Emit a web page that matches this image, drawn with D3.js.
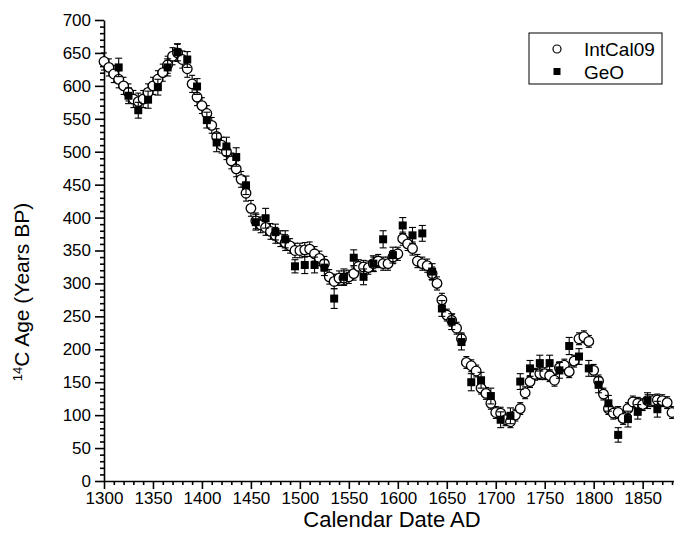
<!DOCTYPE html>
<html>
<head>
<meta charset="utf-8">
<script src="https://cdn.jsdelivr.net/npm/d3@7"></script>
<style>
  body { margin: 0; background: #fff; }
  svg { display: block; }
  text { font-family: "Liberation Sans", Arial, Helvetica, sans-serif; fill: #000; }
</style>
</head>
<body>
<svg id="chart" width="674" height="547"></svg>
<script>
// IntCal09 calibration curve, 5-year steps
const intcalYears = [1300,1305,1310,1315,1320,1325,1330,1335,1340,1345,1350,1355,1360,1365,1370,1375,1380,1385,1390,1395,
  1400,1405,1410,1415,1420,1425,1430,1435,1440,1445,1450,1455,1460,1465,1470,1475,1480,1485,1490,1495,
  1500,1505,1510,1515,1520,1525,1530,1535,1540,1545,1550,1555,1560,1565,1570,1575,1580,1585,1590,1595,
  1600,1605,1610,1615,1620,1625,1630,1635,1640,1645,1650,1655,1660,1665,1670,1675,1680,1685,1690,1695,
  1700,1705,1710,1715,1720,1725,1730,1735,1740,1745,1750,1755,1760,1765,1770,1775,1780,1785,1790,1795,
  1800,1805,1810,1815,1820,1825,1830,1835,1840,1845,1850,1855,1860,1865,1870,1875,1880];
const intcalAge = [637,628,618,610,600,590,580,576,580,590,600,610,620,632,645,650,640,626,603,583,
  570,558,540,523,510,500,486,474,458,437,414,395,389,385,379,373,368,362,357,350,
  350,351,352,345,338,330,310,303,308,308,310,315,326,325,324,330,334,330,330,340,
  345,368,360,353,334,330,327,315,300,275,252,244,232,216,180,175,167,141,133,118,
  104,103,93,90,100,110,134,151,162,163,163,160,153,172,176,166,182,216,219,212,
  168,152,132,110,103,104,95,110,120,118,116,122,122,123,122,119,104];
const intcalErr = [13,13,13,13,13,13,13,13,13,13,13,13,13,13,13,13,13,13,13,13,
  12,12,12,12,12,12,12,12,12,12,12,12,12,12,12,12,12,12,11,11,
  11,11,11,11,11,11,11,11,11,11,10,10,10,10,10,10,10,10,10,10,
  10,10,10,10,10,10,10,10,10,10,9,9,9,9,9,9,9,9,9,9,
  9,9,9,9,9,9,9,9,9,9,9,9,9,9,9,9,9,9,9,9,
  9,9,9,9,9,9,9,9,9,9,9,9,9,9,9,9,9];

// GeO measurements, decadal samples
const geoYears = [1315,1325,1335,1345,1355,1365,1375,1385,1395,1405,1415,1425,1435,1445,1455,1465,1475,1485,1495,1505,
  1515,1525,1535,1545,1555,1565,1575,1585,1595,1605,1615,1625,1635,1645,1655,1665,1675,1685,1695,1705,
  1715,1725,1735,1745,1755,1765,1775,1785,1795,1805,1815,1825,1835,1845,1855,1865];
const geoAge = [628,585,563,579,598,628,651,640,599,548,514,508,492,449,393,399,378,367,326,328,
  328,324,277,310,339,310,330,367,343,388,373,376,318,262,242,211,150,153,129,93,
  99,151,171,179,179,168,205,189,171,146,118,70,94,105,122,109];
const geoErr = [14,12,12,13,12,13,13,12,12,12,14,14,14,14,12,15,12,13,10,13,
  12,12,15,12,12,12,12,13,12,12,12,12,12,12,12,12,13,12,12,12,
  12,12,12,12,12,12,13,12,12,12,12,11,12,11,12,12];

const xTicks = [1300,1350,1400,1450,1500,1550,1600,1650,1700,1750,1800,1850];
const xMinorTicks = [1310,1320,1330,1340,1360,1370,1380,1390,1410,1420,1430,1440,1460,1470,1480,1490,
  1510,1520,1530,1540,1560,1570,1580,1590,1610,1620,1630,1640,1660,1670,1680,1690,
  1710,1720,1730,1740,1760,1770,1780,1790,1810,1820,1830,1840,1860,1870,1880];
const yTicks = [0,50,100,150,200,250,300,350,400,450,500,550,600,650,700];
const yMinorTicks = [10,20,30,40,60,70,80,90,110,120,130,140,160,170,180,190,210,220,230,240,
  260,270,280,290,310,320,330,340,360,370,380,390,410,420,430,440,460,470,480,490,
  510,520,530,540,560,570,580,590,610,620,630,640,660,670,680,690];
const seriesNames = ["IntCal09", "GeO"];

const intcal = intcalYears.map((yr, i) => ({ year: yr, age: intcalAge[i], err: intcalErr[i] }));
const geo = geoYears.map((yr, i) => ({ year: yr, age: geoAge[i], err: geoErr[i] }));

const svg = d3.select("#chart");
const x = d3.scaleLinear().domain([1300, 1882]).range([104, 674]);
const y = d3.scaleLinear().domain([0, 700]).range([481, 20]);

// Axes: major ticks with labels, minor ticks without
const yAxis = svg.append("g").attr("transform", `translate(${x(1300)},0)`)
  .call(d3.axisLeft(y).tickValues(yTicks).tickSize(9).tickSizeOuter(0).tickPadding(4).tickFormat(d3.format("d")));
svg.append("g").attr("transform", `translate(${x(1300)},0)`)
  .call(d3.axisLeft(y).tickValues(yMinorTicks).tickSize(4).tickFormat(""))
  .call(g => g.select(".domain").remove());

const xAxis = svg.append("g").attr("transform", `translate(0,${y(0)})`)
  .call(d3.axisBottom(x).tickValues(xTicks).tickSize(8).tickSizeOuter(0).tickPadding(3).tickFormat(d3.format("d")));
svg.append("g").attr("transform", `translate(0,${y(0)})`)
  .call(d3.axisBottom(x).tickValues(xMinorTicks).tickSize(4).tickFormat(""))
  .call(g => g.select(".domain").remove());

svg.selectAll(".domain, .tick line").attr("stroke", "#000").attr("stroke-width", 1.6);
yAxis.selectAll(".tick text").attr("font-size", 17);
xAxis.selectAll(".tick text").attr("font-size", 17);

// Axis titles
svg.append("text")
  .attr("x", 392).attr("y", 527)
  .attr("text-anchor", "middle").attr("font-size", 22)
  .text("Calendar Date AD");

const yTitle = svg.append("text")
  .attr("transform", "translate(29,292) rotate(-90)")
  .attr("text-anchor", "middle").attr("font-size", 21);
yTitle.append("tspan").attr("font-size", 13).attr("dy", -7).text("14");
yTitle.append("tspan").attr("dy", 7).text("C Age (Years BP)");

// Error bars with caps
function errorBars(data, cls, cap) {
  const g = svg.append("g").attr("class", cls).attr("stroke", "#000").attr("stroke-width", 1.1);
  g.selectAll("line.v").data(data).join("line").attr("class", "v")
    .attr("x1", d => x(d.year)).attr("x2", d => x(d.year))
    .attr("y1", d => y(d.age + d.err)).attr("y2", d => y(d.age - d.err));
  g.selectAll("line.t").data(data).join("line").attr("class", "t")
    .attr("x1", d => x(d.year) - cap).attr("x2", d => x(d.year) + cap)
    .attr("y1", d => y(d.age + d.err)).attr("y2", d => y(d.age + d.err));
  g.selectAll("line.b").data(data).join("line").attr("class", "b")
    .attr("x1", d => x(d.year) - cap).attr("x2", d => x(d.year) + cap)
    .attr("y1", d => y(d.age - d.err)).attr("y2", d => y(d.age - d.err));
}

errorBars(intcal, "intcal-err", 3);
svg.append("g").selectAll("circle").data(intcal).join("circle")
  .attr("cx", d => x(d.year)).attr("cy", d => y(d.age)).attr("r", 4.8)
  .attr("fill", "#fff").attr("stroke", "#000").attr("stroke-width", 1.3);

errorBars(geo, "geo-err", 3.5);
const sq = 8;
svg.append("g").selectAll("rect").data(geo).join("rect")
  .attr("x", d => x(d.year) - sq / 2).attr("y", d => y(d.age) - sq / 2)
  .attr("width", sq).attr("height", sq).attr("fill", "#000");

// Legend
const legend = svg.append("g");
legend.append("rect").attr("x", 529).attr("y", 33).attr("width", 133).attr("height", 51)
  .attr("fill", "#fff").attr("stroke", "#000").attr("stroke-width", 1);
legend.append("circle").attr("cx", 557).attr("cy", 49).attr("r", 4)
  .attr("fill", "#fff").attr("stroke", "#000").attr("stroke-width", 1.2);
legend.append("rect").attr("x", 553.5).attr("y", 68).attr("width", 7).attr("height", 7).attr("fill", "#000");
legend.append("text").attr("x", 584).attr("y", 56).attr("font-size", 19).text(seriesNames[0]);
legend.append("text").attr("x", 584).attr("y", 79).attr("font-size", 19).text(seriesNames[1]);
</script>
</body>
</html>
